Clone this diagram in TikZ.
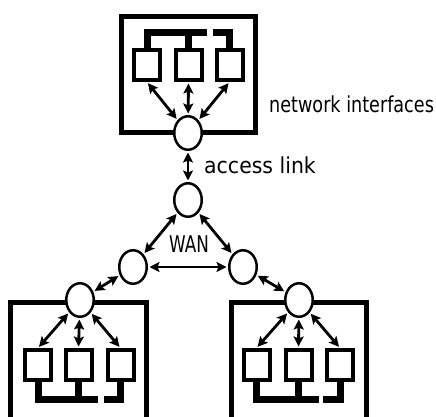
\documentclass[tikz,border=0pt]{standalone}
\usepackage{fontspec}
\usepackage{graphicx}
\setmainfont{DejaVu Sans}
\usetikzlibrary{arrows.meta,shapes.geometric}
\tikzset{
 hub/.style={ellipse,draw,line width=2.5pt,fill=white,minimum width=27.5pt,minimum height=33.5pt,inner sep=0pt},
 pc/.style={rectangle,draw,line width=4pt,fill=white,minimum width=26pt,minimum height=30pt,inner sep=0pt},
 lan/.style={line width=4.8pt},
 bus/.style={line width=7pt},
 link/.style={line width=2.8pt,{Stealth[length=10pt,width=10pt,inset=2pt]}-{Stealth[length=10pt,width=10pt,inset=2pt]},shorten <=1.5pt,shorten >=1.5pt},
 lbl/.style={inner sep=0pt,anchor=base west}
}
\newcommand{\txt}[3]{\scalebox{#1}[1]{\fontsize{#2}{#2}\selectfont #3}}
\begin{document}
\begin{tikzpicture}[x=1pt,y=-1pt]
\clip (0,0) rectangle (436,416);
% enclosing boxes
\draw[lan] (121.5,16.5) rectangle (255.5,132.5);
\draw[lan] (10.5,420) -- (10.5,302.5) -- (146.5,302.5) -- (146.5,420);
\draw[lan] (231.5,420) -- (231.5,302.5) -- (366.5,302.5) -- (366.5,420);
% top LAN
\node[pc] (t1) at (147,65) {};
\node[pc] (t2) at (188.5,65) {};
\node[pc] (t3) at (229.5,65) {};
\draw[bus] (t1.north) |- (207,32);
\draw[bus] (t2.north) -- (188.5,32);
\draw[bus] (213,32) -| (t3.north);
% bottom-left LAN
\node[pc] (l1) at (38,365) {};
\node[pc] (l2) at (78.5,365) {};
\node[pc] (l3) at (120.5,365) {};
\draw[bus] (l1.south) |- (98,399);
\draw[bus] (l2.south) -- (78.5,399);
\draw[bus] (104,399) -| (l3.south);
% bottom-right LAN
\node[pc] (r1) at (256.5,365) {};
\node[pc] (r2) at (298.5,365) {};
\node[pc] (r3) at (340,365) {};
\draw[bus] (r1.south) |- (319,399);
\draw[bus] (r2.south) -- (298.5,399);
\draw[bus] (323,399) -| (r3.south);
% hubs
\node[hub] (ta) at (188,133) {};
\node[hub] (w0) at (188,200) {};
\node[hub] (w1) at (133,267) {};
\node[hub] (w2) at (243,267) {};
\node[hub] (la) at (80,300) {};
\node[hub] (ra) at (299,300) {};
% links
\draw[link] (ta) -- (t1.south);
\draw[link] (ta) -- (t2.south);
\draw[link] (ta) -- (t3.south);
\draw[link] (ta) -- (w0);
\draw[link] (w0) -- (w1);
\draw[link] (w0) -- (w2);
\draw[link] (w1) -- (w2);
\draw[link] (w1) -- (la);
\draw[link] (w2) -- (ra);
\draw[link] (la) -- (l1.north);
\draw[link] (la) -- (l2.north);
\draw[link] (la) -- (l3.north);
\draw[link] (ra) -- (r1.north);
\draw[link] (ra) -- (r2.north);
\draw[link] (ra) -- (r3.north);
% labels
\node[lbl] (ni) at (269,112) {\txt{0.8}{22}{network interfaces}};
\node[lbl] (al) at (204,173) {\txt{0.93}{22}{access link}};
\node[lbl] (wan) at (169,252) {\txt{0.73}{23}{WAN}};
\end{tikzpicture}
\end{document}
